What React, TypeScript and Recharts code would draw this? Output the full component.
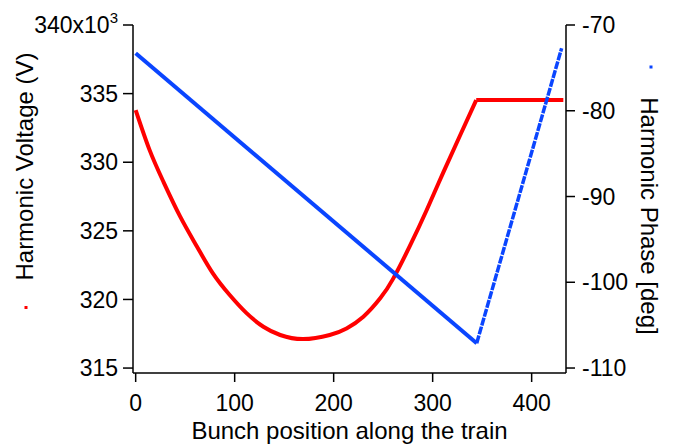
import { ComposedChart, Line, XAxis, YAxis } from "recharts";

// harmonic voltage (V), by bunch index
const voltBunch = [0, 14, 28, 45, 62, 78, 95, 112, 129, 146, 169, 196, 213, 230, 247, 260, 277, 294, 311, 328, 344, 432];
const voltValues = [
  333800, 330900, 328580, 326030, 323840, 321900, 320320, 319000, 318010, 317410, 317110,
  317410, 317890, 318740, 320080, 321500, 323900, 326520, 329300, 332000, 334530, 334530,
];
// index where the curved part ends and the flat top begins
const voltKnee = 20;

// harmonic phase (deg), blue trace: falling ramp then steep rise
const phaseDownBunch = [0, 344.5];
const phaseDownValues = [-73.3, -107.1];
const phaseUpBunch = [344.5, 430.3];
const phaseUpValues = [-107.1, -72.7];

const xTicks = [0, 100, 200, 300, 400];
const voltTicks = [315000, 320000, 325000, 330000, 335000, 340000];
const phaseTicks = [-110, -100, -90, -80, -70];

const voltData = voltBunch.map((b, i) => ({ bunch: b, volt: voltValues[i] }));
const voltCurve = voltData.slice(0, voltKnee + 1);
const voltFlat = voltData.slice(voltKnee);
const phaseDownData = phaseDownBunch.map((b, i) => ({ bunch: b, phase: phaseDownValues[i] }));
const phaseUpData = phaseUpBunch.map((b, i) => ({ bunch: b, phase: phaseUpValues[i] }));

const FONT = "'Liberation Sans', Arial, Helvetica, sans-serif";
const RED = "#ff0000";
const BLUE = "#0a45ff";

function VoltTick({ x, y, payload }: any) {
  const v = Math.round(payload.value / 1000);
  return (
    <text x={x} y={y} dy="0.355em" textAnchor="end" fontSize={23} fontFamily={FONT} fill="#000">
      {v === 340 ? (
        <>
          340x10
          <tspan dy={-10} fontSize={15}>
            3
          </tspan>
        </>
      ) : (
        v
      )}
    </text>
  );
}

function VoltLabel() {
  return (
    <g>
      <text
        transform="translate(33,166.5) rotate(-90)"
        textAnchor="middle"
        fontSize={24}
        fontFamily={FONT}
        fill="#000"
      >
        Harmonic Voltage (V)
      </text>
      <rect x={24.5} y={306} width={3} height={3} fill={RED} />
    </g>
  );
}

function PhaseLabel() {
  return (
    <g>
      <text
        transform="translate(641,216) rotate(90)"
        textAnchor="middle"
        fontSize={24}
        fontFamily={FONT}
        fill="#000"
      >
        Harmonic Phase [deg]
      </text>
      <rect x={649.5} y={65.5} width={3} height={3} fill={BLUE} />
    </g>
  );
}

export default function App() {
  const axisLine = { stroke: "#000", strokeWidth: 1.5 };
  const tickLine = { stroke: "#000", strokeWidth: 1.5 };
  const tick = { fontSize: 23, fontFamily: FONT, fill: "#000" };
  return (
    <div style={{ position: "absolute", left: 0, top: 0, background: "#fff" }}>
      <ComposedChart width={675} height={445} margin={{ top: 25, right: 0, bottom: 0, left: 0 }}>
        <XAxis
          dataKey="bunch"
          type="number"
          domain={[-2.7, 434.7]}
          ticks={xTicks}
          allowDataOverflow
          height={72}
          tickSize={9}
          tickMargin={13}
          axisLine={axisLine}
          tickLine={tickLine}
          tick={tick}
          label={{
            value: "Bunch position along the train",
            position: "insideBottom",
            offset: 6,
            fontSize: 24,
            fontFamily: FONT,
            fill: "#000",
          }}
        />
        <YAxis
          yAxisId="volt"
          type="number"
          domain={[314640, 340000]}
          ticks={voltTicks}
          allowDataOverflow
          width={133}
          tickSize={10}
          tickMargin={5}
          axisLine={axisLine}
          tickLine={tickLine}
          tick={<VoltTick />}
          label={<VoltLabel />}
        />
        <YAxis
          yAxisId="phase"
          orientation="right"
          type="number"
          domain={[-110.58, -70]}
          ticks={phaseTicks}
          allowDataOverflow
          width={109}
          tickSize={9}
          tickMargin={7}
          axisLine={axisLine}
          tickLine={tickLine}
          tick={{ ...tick, textAnchor: "start" }}
          label={<PhaseLabel />}
        />
        <Line
          yAxisId="volt"
          data={voltCurve}
          dataKey="volt"
          type="natural"
          stroke={RED}
          strokeWidth={4}
          dot={false}
          isAnimationActive={false}
        />
        <Line
          yAxisId="volt"
          data={voltFlat}
          dataKey="volt"
          type="linear"
          stroke={RED}
          strokeWidth={4}
          dot={false}
          isAnimationActive={false}
        />
        <Line
          yAxisId="phase"
          data={phaseDownData}
          dataKey="phase"
          type="linear"
          stroke={BLUE}
          strokeWidth={4}
          dot={false}
          isAnimationActive={false}
        />
        <Line
          yAxisId="phase"
          data={phaseUpData}
          dataKey="phase"
          type="linear"
          stroke={BLUE}
          strokeWidth={3.5}
          strokeDasharray="8 1.2"
          dot={false}
          isAnimationActive={false}
        />
      </ComposedChart>
    </div>
  );
}
